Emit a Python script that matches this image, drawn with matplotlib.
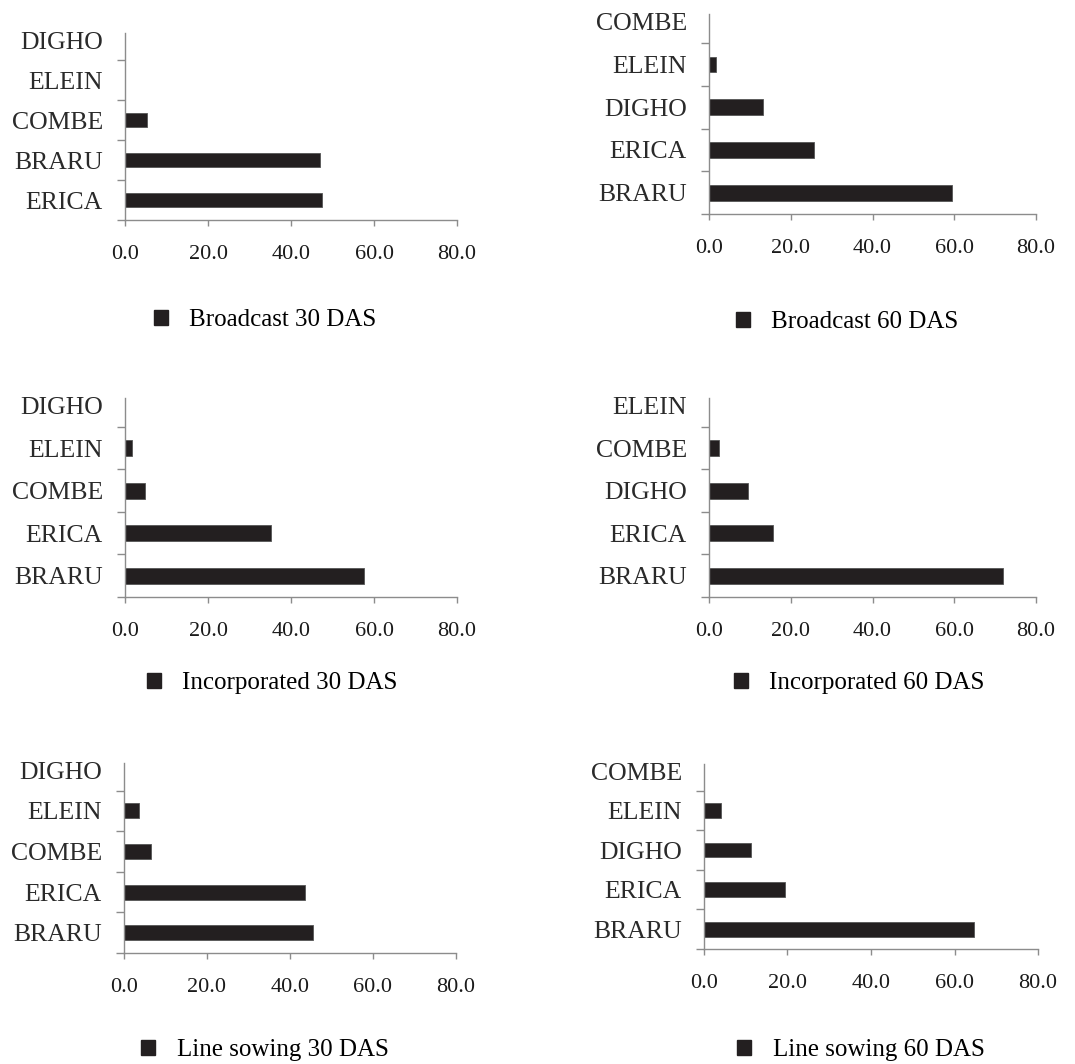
import matplotlib
matplotlib.use("Agg")
import matplotlib.pyplot as plt
from matplotlib.patches import Patch

plt.rcParams['font.family'] = ['Liberation Serif', 'DejaVu Serif']

# ---- data (categories listed bottom -> top) ----
bc30_cats = ["ERICA", "BRARU", "COMBE", "ELEIN", "DIGHO"]
bc30_vals = [47.5, 46.9, 5.3, 0.0, 0.0]

bc60_cats = ["BRARU", "ERICA", "DIGHO", "ELEIN", "COMBE"]
bc60_vals = [59.5, 25.6, 13.1, 1.7, 0.0]

inc30_cats = ["BRARU", "ERICA", "COMBE", "ELEIN", "DIGHO"]
inc30_vals = [57.7, 35.3, 4.7, 1.8, 0.0]

inc60_cats = ["BRARU", "ERICA", "DIGHO", "COMBE", "ELEIN"]
inc60_vals = [71.9, 15.6, 9.6, 2.5, 0.0]

ls30_cats = ["BRARU", "ERICA", "COMBE", "ELEIN", "DIGHO"]
ls30_vals = [45.6, 43.7, 6.6, 3.6, 0.0]

ls60_cats = ["BRARU", "ERICA", "DIGHO", "ELEIN", "COMBE"]
ls60_vals = [64.6, 19.5, 11.2, 4.0, 0.0]

titles = ["Broadcast 30 DAS", "Broadcast 60 DAS",
          "Incorporated 30 DAS", "Incorporated 60 DAS",
          "Line sowing 30 DAS", "Line sowing 60 DAS"]
x_ticks = [0, 20, 40, 60, 80]
x_ticklabels = ["0.0", "20.0", "40.0", "60.0", "80.0"]

W, H = 1075, 1064
fig = plt.figure(figsize=(W / 100, H / 100), dpi=100)

# panel geometry in pixels: (x0, x1, ytop, ybottom), legend center (x, y)
geo = [
    (125, 457, 33, 220, 265, 320),
    (709, 1036, 14, 214, 847, 322),
    (125, 457, 398, 597, 272, 683),
    (709, 1036, 398, 597, 859, 683),
    (124, 456, 763, 953, 265, 1050),
    (704, 1038, 764, 949, 861, 1050),
]
panels = [(bc30_cats, bc30_vals), (bc60_cats, bc60_vals),
          (inc30_cats, inc30_vals), (inc60_cats, inc60_vals),
          (ls30_cats, ls30_vals), (ls60_cats, ls60_vals)]

bar_color = "#231f20"
spine_color = "#8c8c8c"

for (cats, vals), (x0, x1, yt, yb, lx, ly), title in zip(panels, geo, titles):
    ax = fig.add_axes([x0 / W, 1 - yb / H, (x1 - x0) / W, (yb - yt) / H])
    pos = list(range(len(cats)))
    ax.barh(pos, vals, height=0.37, color=bar_color,
            edgecolor="#555555", linewidth=0.6)
    ax.set_xlim(0, 80)
    ax.set_ylim(-0.5, 4.18)
    ax.set_xticks(x_ticks)
    ax.set_xticklabels(x_ticklabels, fontsize=16, color="#1a1a1a")
    ax.set_yticks(pos)
    ax.set_yticklabels(cats, fontsize=18.5, color="#2a2a2a")
    ax.set_yticks([p - 0.5 for p in pos], minor=True)
    ax.tick_params(axis="y", which="major", length=0, pad=16)
    ax.tick_params(axis="y", which="minor", length=6, width=1.0,
                   color=spine_color, direction="out")
    ax.tick_params(axis="x", which="major", length=4, width=1.0,
                   color=spine_color, direction="out", pad=14)
    for s in ["top", "right"]:
        ax.spines[s].set_visible(False)
    for s in ["left", "bottom"]:
        ax.spines[s].set_color(spine_color)
        ax.spines[s].set_linewidth(1.0)
    ax.patch.set_alpha(0)

    handle = Patch(facecolor=bar_color, edgecolor=bar_color)
    fig.legend([handle], [title], loc="center",
               bbox_to_anchor=(lx / W, 1 - ly / H), frameon=False,
               fontsize=18, handlelength=0.56, handleheight=0.56,
               handletextpad=0.85, borderpad=0)

fig.savefig("out.png", dpi=100)
